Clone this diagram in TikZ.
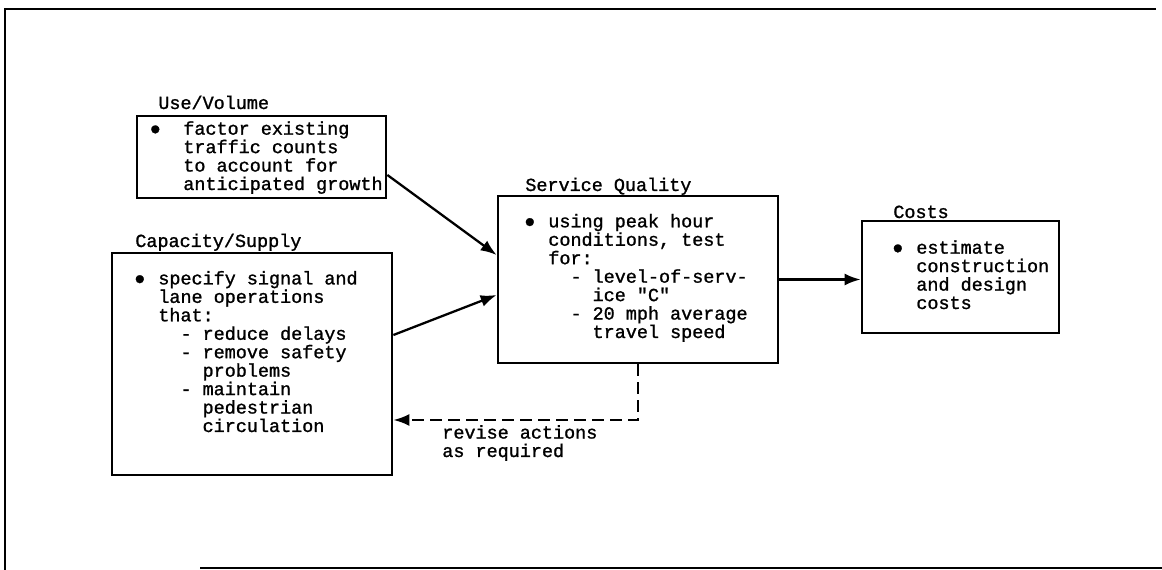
\documentclass[tikz,border=0pt]{standalone}
\usepackage{fontspec}
\setmainfont{Liberation Mono}[FakeBold=1.2, Ligatures=TeXOff]
\usetikzlibrary{arrows.meta,positioning}
\newcommand\bul[1][0.26cm]{\llap{●\hspace{#1}}}
\newcommand\ind[1]{\hspace*{#1em}}
\tikzset{
  box/.style={draw, line width=1.6pt, inner sep=0pt},
  txt/.style={anchor=base west, align=left, inner sep=0pt, font=\fontsize{10.5}{10.5}\selectfont},
  flow/.style={line width=1.3pt, -{Latex[length=3.2mm,width=2.4mm]}},
  back/.style={flow, dash pattern=on 0.24cm off 0.12cm}
}
\begin{document}
\begin{tikzpicture}[x=0.02cm, y=-0.02cm]
\useasboundingbox (0,0) rectangle (1162,570);
% Frame
\draw [line width=1.5pt] (1156,9) -- (5,9) -- (5,570);
\draw [line width=1.5pt] (200,568) -- (1162,568);
% Boxes
\node [box, minimum width=4.98cm, minimum height=1.64cm] (use) at (261.5,157) {};
\node [box, minimum width=5.6cm, minimum height=4.44cm] (cap) at (252,364) {};
\node [box, minimum width=5.6cm, minimum height=3.34cm] (sq) at (638,279.5) {};
\node [box, minimum width=3.94cm, minimum height=2.24cm] (cost) at (960.5,277) {};
% Titles
\node [txt] (usettl) at (158,109) {Use/Volume};
\node [txt] (capttl) at (135,247) {Capacity/Supply};
\node [txt] (sqttl) at (525,191) {Service Quality};
\node [txt] (costttl) at (893,218) {Costs};
% Texts (base = last line)
\node [txt] (usetxt) at (183,190) {\bul[0.45cm]factor existing\\
  traffic counts\\
  to account for\\
  anticipated growth};
\node [txt] (captxt) at (158,432) {\bul specify signal and\\
  lane operations\\
  that:\\
  \ind{1.2}- reduce delays\\
  \ind{1.2}- remove safety\\
  \ind{2.4}problems\\
  \ind{1.2}- maintain\\
  \ind{2.4}pedestrian\\
  \ind{2.4}circulation};
\node [txt] (sqtxt) at (548,338) {\bul using peak hour\\
  conditions, test\\
  for:\\
  \ind{1.2}- level-of-serv-\\
  \ind{2.4}ice "C"\\
  \ind{1.2}- 20 mph average\\
  \ind{2.4}travel speed};
\node [txt] (costtxt) at (916,309) {\bul estimate\\
  construction\\
  and design\\
  costs};
\node [txt] (revise) at (442,457) {revise actions\\as required};
% Connectors
\draw [flow] ([yshift=-0.36cm]use.east) -- ([yshift=0.49cm]sq.west);
\draw [flow] ([yshift=0.58cm]cap.east) -- ([yshift=-0.31cm]sq.west);
\draw [flow] (sq.east) -- (sq.east -| cost.west);
\draw [back] (sq.south) |- ([yshift=-1.12cm]cap.east);
\end{tikzpicture}
\end{document}
